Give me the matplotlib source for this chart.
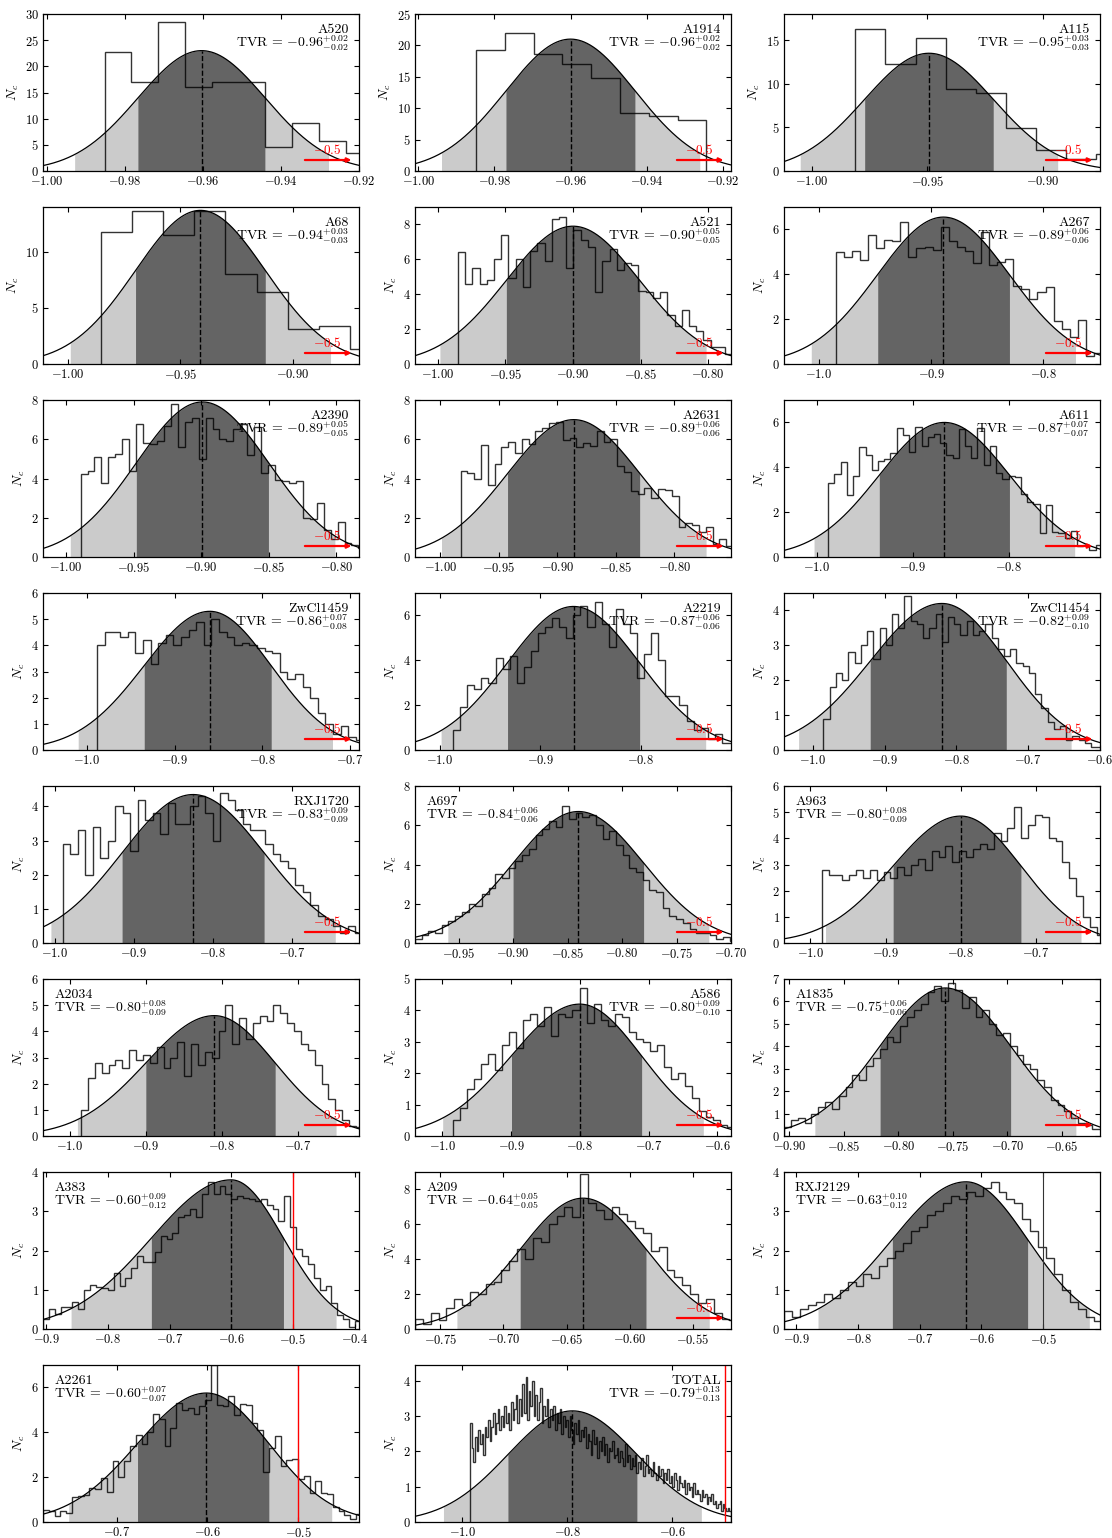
import numpy as np
import matplotlib
matplotlib.use('Agg')
import matplotlib.pyplot as plt
from matplotlib.ticker import MultipleLocator, FuncFormatter

plt.rcParams['font.family'] = 'serif'
plt.rcParams['font.serif'] = ['cmr10', 'DejaVu Serif']
plt.rcParams['mathtext.fontset'] = 'cm'
plt.rcParams['axes.formatter.use_mathtext'] = True

# ---- per-cluster histograms (counts) ----
a520 = [22.8, 17.1, 28.5, 16.0, 17.1, 17.1, 4.5, 9.1, 5.7, 3.4]
a1914 = [19.3, 22.0, 18.7, 17.0, 14.8, 9.3, 8.8, 8.2]
a115 = [16.3, 12.3, 15.2, 9.4, 8.9, 4.9, 2.4, 1.4, 2.0]
a68 = [11.8, 13.6, 11.5, 13.6, 8.0, 6.4, 3.1, 3.4, 1.3]
a521 = [6.4, 4.6, 5.5, 4.6, 4.8, 6.0, 7.4, 4.95, 6.0, 4.4, 6.5, 6.95, 5.9, 8.3, 8.4, 5.5, 7.7, 7.1, 6.7,
        4.1, 5.9, 6.6, 5.4, 5.8, 5.7, 4.2, 4.1, 3.8, 4.1, 2.8, 2.2, 3.1, 2.2, 1.9, 1.4, 1.0, 0.95, 0.6]
a267 = [5.0, 4.75, 5.05, 4.65, 5.75, 5.15, 5.55, 5.5, 6.35, 4.75, 5.15, 5.2, 5.1, 6.1, 5.5, 5.2, 5.05,
        4.5, 5.9, 4.4, 4.55, 4.7, 3.5, 3.35, 2.9, 3.2, 3.45, 1.9, 1.55, 1.2, 1.95, 0.35, 0.5]
a2390 = [4.25, 4.4, 5.1, 3.75, 5.1, 5.25, 6.0, 4.4, 6.8, 5.8, 5.75, 5.9, 6.7, 7.8, 5.6, 6.9, 7.1, 5.0,
         7.1, 6.5, 6.0, 5.9, 6.5, 6.8, 5.2, 6.6, 4.3, 4.7, 3.9, 3.85, 3.75, 3.85, 2.0, 1.95, 2.75, 1.4,
         0.9, 1.8, 0.7, 0.6, 0.45]
a2631 = [4.4, 4.3, 3.95, 5.7, 3.65, 4.75, 5.6, 5.85, 5.3, 6.0, 5.75, 6.4, 6.55, 6.85, 6.9, 5.95, 6.05,
         5.6, 5.8, 5.65, 6.4, 5.85, 6.0, 4.65, 4.35, 3.35, 3.2, 3.5, 3.0, 3.45, 3.4, 3.1, 1.55, 1.75,
         1.65, 1.25, 1.55, 0.65, 0.9, 0.55]
a611 = [3.3, 3.7, 4.25, 2.75, 3.6, 4.9, 4.55, 3.9, 4.3, 4.35, 4.65, 5.75, 5.45, 4.7, 5.8, 4.95, 5.35,
        5.5, 5.1, 4.55, 4.4, 5.7, 4.95, 4.4, 5.75, 4.1, 4.95, 3.75, 3.5, 3.6, 3.55, 2.8, 2.45, 2.35,
        1.05, 2.3, 1.1, 1.05, 0.85, 1.15, 0.5, 0.55, 0.3, 0.55]
zwcl1459 = [4.0, 4.5, 4.5, 4.3, 4.5, 3.7, 4.2, 3.3, 4.1, 4.4, 4.0, 4.3, 4.6, 4.9, 4.0, 5.0, 4.5, 4.3,
            4.0, 4.1, 4.0, 3.9, 3.8, 3.7, 3.0, 2.7, 2.9, 2.4, 2.0, 1.4, 1.0, 0.6, 0.9, 0.5, 0.4]
a2219 = [0.9, 1.9, 2.9, 2.7, 3.2, 3.0, 4.1, 3.6, 4.2, 3.0, 3.7, 4.4, 5.2, 5.5, 5.9, 5.5, 5.0, 6.0, 6.4,
         5.5, 6.6, 5.6, 4.6, 6.3, 5.6, 5.2, 3.2, 4.3, 5.2, 4.0, 2.4, 2.4, 2.0, 1.3, 0.9, 1.0, 0.5, 0.7,
         0.3, 0.3]
zwcl1454 = [0.9, 1.8, 2.2, 2.0, 2.8, 2.5, 3.0, 3.4, 2.6, 3.5, 3.0, 3.9, 3.5, 4.4, 3.7, 3.6, 3.2, 3.5,
            3.9, 3.1, 3.8, 3.6, 3.3, 3.7, 3.3, 3.4, 3.6, 3.2, 2.9, 2.7, 2.9, 2.5, 2.4, 2.2, 1.6, 1.2,
            0.8, 0.6, 0.7, 0.3, 0.4, 0.3, 0.2, 0.1, 0.1]
rxj1720 = [2.9, 2.6, 3.3, 2.0, 3.4, 2.5, 3.0, 4.0, 3.8, 2.7, 4.2, 3.6, 3.8, 3.2, 4.1, 3.5, 3.5, 4.0,
           4.3, 3.8, 3.0, 4.4, 4.2, 3.9, 3.5, 3.3, 3.3, 2.9, 2.6, 2.4, 2.2, 1.7, 1.5, 1.1, 0.8, 0.7,
           0.5, 0.3, 0.5, 0.3]
a697 = [0.2, 0.4, 0.6, 0.5, 0.9, 1.1, 1.4, 1.6, 2.0, 1.9, 2.5, 2.8, 3.5, 3.3, 3.8, 4.2, 4.5, 4.8, 5.5,
        5.8, 6.2, 5.9, 7.0, 6.3, 6.6, 6.4, 6.5, 6.0, 5.3, 5.7, 5.0, 4.5, 3.8, 3.6, 3.2, 2.7, 2.6, 1.8,
        1.4, 1.2, 1.0, 0.7, 0.5, 0.5, 0.4, 0.2, 0.3, 0.1]
a963 = [2.8, 2.6, 2.6, 2.4, 2.6, 2.8, 2.5, 2.8, 2.4, 2.7, 2.5, 2.9, 2.6, 3.0, 3.2, 2.8, 3.5, 3.3, 3.7,
        3.1, 3.5, 3.3, 3.6, 3.8, 3.6, 4.2, 3.9, 4.4, 5.2, 4.0, 4.5, 4.9, 4.8, 4.0, 3.9, 3.1, 2.5, 1.8,
        1.0, 0.6, 0.3]
a2034 = [1.0, 2.2, 2.8, 2.4, 2.7, 2.9, 2.6, 3.3, 2.9, 3.1, 2.8, 3.4, 2.6, 3.0, 3.6, 2.3, 3.5, 2.7, 3.2,
         3.0, 4.0, 5.0, 3.5, 4.5, 3.7, 4.3, 4.6, 4.4, 5.0, 4.7, 4.3, 4.0, 3.5, 3.3, 2.7, 2.0, 1.4, 1.0,
         0.6, 0.4, 0.35]
a586 = [0.5, 0.9, 1.5, 1.8, 2.3, 2.6, 2.1, 2.9, 3.3, 2.8, 3.7, 3.9, 3.5, 4.1, 3.2, 3.9, 3.8, 4.0, 4.7,
        3.6, 4.2, 3.7, 3.5, 3.9, 3.8, 3.3, 3.1, 3.0, 2.7, 2.9, 2.2, 1.8, 2.0, 1.6, 1.2, 0.8, 0.6, 0.5,
        0.35, 0.3]
a1835 = [0.4, 0.7, 0.8, 0.6, 1.0, 1.3, 1.5, 1.2, 1.8, 2.2, 2.7, 2.5, 3.1, 3.5, 3.9, 4.4, 4.2, 4.9, 5.3,
         5.6, 5.9, 6.4, 6.7, 6.0, 6.8, 6.5, 5.7, 6.2, 5.3, 5.6, 5.0, 4.5, 4.6, 4.0, 3.6, 3.2, 3.0, 2.5,
         2.2, 1.6, 1.4, 1.1, 0.8, 0.6, 0.5, 0.3, 0.3]
a383 = [0.25, 0.5, 0.38, 0.55, 0.55, 0.68, 0.5, 1.0, 1.12, 1.08, 1.05, 1.0, 1.43, 1.1, 1.3, 1.55, 1.85,
        1.7, 1.7, 1.95, 2.38, 2.3, 2.45, 2.85, 2.9, 3.05, 2.85, 3.45, 3.75, 3.45, 3.65, 3.45, 3.3, 3.4,
        3.35, 3.3, 3.25, 3.3, 3.15, 3.05, 2.75, 3.4, 2.6, 2.05, 1.85, 1.65, 1.3, 1.0, 1.1, 0.65, 0.35,
        0.25, 0.05, 0.2]
a209 = [0.6, 0.3, 0.9, 0.5, 1.2, 1.7, 1.4, 2.1, 2.0, 2.6, 2.7, 3.4, 3.9, 4.6, 4.0, 5.2, 5.0, 6.0, 6.5,
        7.0, 6.4, 8.9, 7.2, 6.8, 6.3, 7.0, 6.6, 6.2, 5.8, 5.5, 4.5, 4.7, 3.4, 3.0, 2.5, 2.0, 1.5, 1.7,
        0.9, 0.6, 0.5]
rxj2129 = [0.45, 0.3, 0.5, 0.6, 0.7, 0.9, 0.8, 1.0, 1.2, 1.1, 1.4, 1.3, 1.6, 1.8, 2.0, 2.2, 2.5, 2.6,
           2.9, 3.0, 3.2, 3.4, 3.3, 3.5, 3.4, 3.6, 3.75, 3.5, 3.3, 3.2, 2.8, 2.5, 2.1, 1.8, 1.4, 1.0,
           0.7, 0.5, 0.3, 0.2]
a2261 = [0.55, 0.5, 0.25, 0.5, 0.4, 1.1, 1.15, 1.2, 1.5, 1.45, 1.95, 1.35, 2.7, 2.0, 2.7, 3.4, 3.9,
         3.5, 4.0, 4.8, 4.6, 3.4, 4.2, 5.3, 5.0, 5.1, 4.8, 5.15, 5.45, 7.0, 5.2, 5.15, 5.6, 4.75, 5.25,
         5.2, 4.4, 4.1, 2.25, 3.3, 3.85, 2.5, 2.75, 2.8, 1.9, 2.05, 1.3, 1.85, 1.3, 1.25, 0.65, 0.5,
         0.3, 0.15, 0.35]
total = [2.8, 2.1, 1.7, 2.4, 2.0, 2.6, 2.2, 2.5, 1.9, 2.7,
         2.4, 2.9, 2.3, 2.7, 3.1, 2.5, 2.8, 3.2, 2.6, 3.0,
         2.7, 3.3, 2.8, 3.1, 2.6, 3.4, 2.9, 3.2, 3.6, 2.8,
         3.5, 3.0, 3.9, 3.1, 4.1, 2.9, 3.7, 3.3, 4.0, 3.0,
         3.6, 2.9, 3.4, 3.8, 2.8, 3.3, 3.0, 3.5, 2.7, 3.2,
         2.9, 3.3, 2.6, 3.1, 2.8, 3.2, 2.5, 3.0, 2.7, 2.9,
         2.4, 3.0, 2.6, 2.2, 2.8, 2.5, 2.9, 2.3, 2.6, 2.4,
         2.7, 2.1, 2.5, 2.3, 1.9, 2.6, 2.2, 2.4, 1.8, 2.3,
         2.0, 2.4, 1.9, 2.2, 1.7, 2.1, 2.0, 2.3, 1.8, 1.9,
         2.1, 1.7, 2.0, 1.8, 1.6, 2.2, 1.7, 1.9, 1.5, 1.8,
         1.6, 1.9, 1.4, 1.7, 1.5, 1.8, 1.3, 1.6, 1.9, 1.4,
         1.5, 1.3, 1.7, 1.4, 1.2, 1.6, 1.3, 1.5, 1.1, 1.4,
         1.2, 1.5, 1.1, 1.3, 1.0, 1.4, 1.2, 0.9, 1.3, 1.1,
         1.0, 1.2, 0.8, 1.1, 0.9, 1.0, 0.7, 1.1, 0.8, 0.9,
         0.8, 0.6, 0.9, 0.7, 0.8, 0.5, 0.7, 0.6, 0.8, 0.5,
         0.6, 0.4, 0.5, 0.6, 0.3, 0.5, 0.4, 0.3, 0.4, 0.3]

names = ['A520', 'A1914', 'A115', 'A68', 'A521', 'A267', 'A2390', 'A2631', 'A611',
         'ZwCl1459', 'A2219', 'ZwCl1454', 'RXJ1720', 'A697', 'A963', 'A2034', 'A586', 'A1835',
         'A383', 'A209', 'RXJ2129', 'A2261', 'TOTAL']
counts = [a520, a1914, a115, a68, a521, a267, a2390, a2631, a611, zwcl1459, a2219, zwcl1454,
          rxj1720, a697, a963, a2034, a586, a1835, a383, a209, rxj2129, a2261, total]
hist_lo = [-0.9851, -0.9848, -0.9812, -0.9853, -0.9852, -0.9851, -0.9892, -0.9827, -0.988,
           -0.988, -0.987, -0.985, -0.99, -0.99, -0.985, -0.985, -0.985, -0.905,
           -0.905, -0.77, -0.92, -0.781, -0.985]
hist_hi = [-0.9166, -0.9243, -0.8639, -0.8606, -0.782, -0.7475, -0.7785, -0.75, -0.703,
           -0.685, -0.705, -0.595, -0.61, -0.695, -0.61, -0.615, -0.575, -0.61,
           -0.39, -0.515, -0.405, -0.43, -0.488]

tvr = [-0.96, -0.96, -0.95, -0.94, -0.90, -0.89, -0.89, -0.89, -0.87, -0.86, -0.87, -0.82,
       -0.83, -0.84, -0.80, -0.80, -0.80, -0.75, -0.60, -0.64, -0.63, -0.60, -0.79]
tvr_up = [0.02, 0.02, 0.03, 0.03, 0.05, 0.06, 0.05, 0.06, 0.07, 0.07, 0.06, 0.09,
          0.09, 0.06, 0.08, 0.08, 0.09, 0.06, 0.09, 0.05, 0.10, 0.07, 0.13]
tvr_dn = [0.02, 0.02, 0.03, 0.03, 0.05, 0.06, 0.05, 0.06, 0.07, 0.08, 0.06, 0.10,
          0.09, 0.06, 0.09, 0.09, 0.10, 0.06, 0.12, 0.05, 0.12, 0.07, 0.13]

# fitted curve: centre, lower / upper widths, peak height
fit_mu = [-0.9603, -0.960, -0.9493, -0.941, -0.900, -0.889, -0.899, -0.886, -0.867,
          -0.86, -0.867, -0.82, -0.825, -0.84, -0.80, -0.81, -0.80, -0.757,
          -0.60, -0.637, -0.625, -0.601, -0.79]
fit_slo = [0.0163, 0.017, 0.028, 0.029, 0.0494, 0.059, 0.049, 0.0566, 0.068,
           0.075, 0.066, 0.10, 0.09, 0.06, 0.09, 0.09, 0.10, 0.06,
           0.13, 0.05, 0.12, 0.076, 0.123]
fit_shi = [0.0163, 0.017, 0.028, 0.029, 0.0494, 0.059, 0.049, 0.0566, 0.068,
           0.07, 0.066, 0.09, 0.09, 0.06, 0.08, 0.08, 0.09, 0.06,
           0.085, 0.05, 0.10, 0.069, 0.123]
fit_peak = [23.0, 21.0, 13.5, 13.7, 7.9, 6.55, 7.9, 7.0, 6.0, 5.3, 6.4, 4.2, 4.35, 6.7,
            4.85, 4.6, 4.2, 6.6, 3.8, 7.5, 3.75, 5.75, 3.15]

# axis settings
xlims = [(-1.0009, -0.92), (-1.0009, -0.9178), (-1.0122, -0.8751), (-1.0111, -0.8704),
         (-1.017, -0.783), (-1.0313, -0.7493), (-1.017, -0.7832), (-1.0216, -0.7517),
         (-1.034, -0.705), (-1.05, -0.69), (-1.025, -0.71), (-1.04, -0.6), (-1.015, -0.615),
         (-0.99, -0.70), (-1.035, -0.615), (-1.035, -0.62), (-1.04, -0.58), (-0.905, -0.615),
         (-0.905, -0.393), (-0.77, -0.52), (-0.92, -0.408), (-0.781, -0.433), (-1.09, -0.488)]
ymax = [30, 25, 18, 14, 9, 7, 8, 8, 7, 6, 7, 4.5, 4.6, 8, 6, 6, 5, 7, 4, 9, 4, 7, 4.45]
xstep = [0.02, 0.02, 0.05, 0.05, 0.05, 0.1, 0.05, 0.05, 0.1, 0.1, 0.1, 0.1, 0.1, 0.05,
         0.1, 0.1, 0.1, 0.05, 0.1, 0.05, 0.1, 0.1, 0.2]
ystep = [5, 5, 5, 5, 2, 2, 2, 2, 2, 1, 2, 1, 1, 2, 1, 1, 1, 1, 1, 2, 1, 2, 1]
label_left = ['A697', 'A963', 'A2034', 'A1835', 'A383', 'A209', 'RXJ2129', 'A2261']
vline_red = ['A383', 'A2261', 'TOTAL']
vline_dark = ['RXJ2129']

W, H = 1112, 1538
fig = plt.figure(figsize=(W / 100, H / 100), dpi=100)
col_left = [43, 415, 784]
ax_w, ax_h = 316, 157

for i, name in enumerate(names):
    r, c = divmod(i, 3)
    top = 14 + 193 * r
    ax = fig.add_axes([col_left[c] / W, 1 - (top + ax_h) / H, ax_w / W, ax_h / H])
    x0, x1 = xlims[i]
    mu, slo, shi, pk = fit_mu[i], fit_slo[i], fit_shi[i], fit_peak[i]

    x = np.linspace(x0, x1, 800)
    s = np.where(x < mu, slo, shi)
    y = pk * np.exp(-0.5 * ((x - mu) / s) ** 2)
    ax.fill_between(x, y, where=(x >= mu - 2 * slo) & (x <= mu + 2 * shi),
                    color='#cbcbcb', lw=0)
    ax.fill_between(x, y, where=(x >= mu - slo) & (x <= mu + shi),
                    color='#646464', lw=0)
    ax.plot(x, y, color='k', lw=0.9)
    ax.plot([mu, mu], [0, pk], 'k--', lw=1.0)

    cnt = counts[i]
    edges = np.linspace(hist_lo[i], hist_hi[i], len(cnt) + 1)
    ax.stairs(cnt, edges, color='k', alpha=0.8, lw=1.0)

    if name in vline_red:
        ax.axvline(-0.5, color='red', lw=1.0)
    elif name in vline_dark:
        ax.axvline(-0.5, color='0.2', lw=0.8)
    else:
        ax.annotate('', xy=(0.985, 0.07), xytext=(0.82, 0.07), xycoords='axes fraction',
                    arrowprops=dict(arrowstyle='-|>', color='red', lw=1.6, mutation_scale=6))
        ax.text(0.9, 0.09, r'$-0.5$', color='red', ha='center', va='bottom',
                transform=ax.transAxes, fontsize=9.5)

    tv = r'TVR = $-%.2f^{+%.2f}_{-%.2f}$' % (-tvr[i], tvr_up[i], tvr_dn[i])
    if name in label_left:
        ax.text(0.035, 0.88, name, ha='left', va='baseline', transform=ax.transAxes, fontsize=10)
        ax.text(0.035, 0.79, tv, ha='left', va='baseline', transform=ax.transAxes, fontsize=10)
    else:
        ax.text(0.968, 0.88, name, ha='right', va='baseline', transform=ax.transAxes, fontsize=10)
        ax.text(0.968, 0.79, tv, ha='right', va='baseline', transform=ax.transAxes, fontsize=10)

    ax.set_xlim(x0, x1)
    ax.set_ylim(0, ymax[i])
    ax.xaxis.set_major_locator(MultipleLocator(xstep[i]))
    ax.yaxis.set_major_locator(MultipleLocator(ystep[i]))
    dec = 2 if xstep[i] < 0.1 else 1
    ax.xaxis.set_major_formatter(FuncFormatter(lambda v, p, d=dec: '$%.*f$' % (d, v)))
    ax.yaxis.set_major_formatter(FuncFormatter(lambda v, p: '$%d$' % round(v)))
    ax.tick_params(direction='in', top=True, right=True, length=3.5, width=0.8,
                   labelsize=9, pad=3)
    for sp in ax.spines.values():
        sp.set_linewidth(0.9)
    ax.set_ylabel(r'$N_c$', fontsize=10, labelpad=3)

fig.savefig('out.png', dpi=100)
